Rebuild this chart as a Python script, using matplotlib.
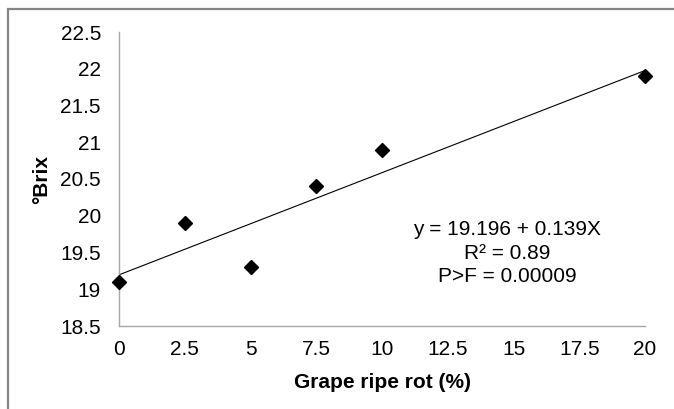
import matplotlib
matplotlib.use("Agg")
import matplotlib.pyplot as plt
from matplotlib.patches import Rectangle

plt.rcParams['font.family'] = ['Liberation Sans', 'DejaVu Sans']

# data
rot = [0, 2.5, 5, 7.5, 10, 20]
brix = [19.1, 19.9, 19.3, 20.4, 20.9, 21.9]
intercept = 19.196
slope = 0.139
x_ticks = [0, 2.5, 5, 7.5, 10, 12.5, 15, 17.5, 20]
x_tick_labels = ["0", "2.5", "5", "7.5", "10", "12.5", "15", "17.5", "20"]
y_ticks = [18.5, 19, 19.5, 20, 20.5, 21, 21.5, 22, 22.5]
y_tick_labels = ["18.5", "19", "19.5", "20", "20.5", "21", "21.5", "22", "22.5"]

W, H = 674, 409
fig = plt.figure(figsize=(W / 100, H / 100), dpi=100)
ax = fig.add_axes([119 / W, 1 - 326 / H, 526 / W, 294 / H])

# outer frame, cut off at right and bottom
fig.patches.append(Rectangle((8 / W, -0.1), 1.2, 1.1 - 9 / H,
                             transform=fig.transFigure, fill=False,
                             edgecolor="#858585", linewidth=1.6))

fit_x = [0, 20]
fit_y = [intercept + slope * v for v in fit_x]
ax.plot(fit_x, fit_y, color="black", linewidth=0.8, zorder=2)
ax.plot(rot, brix, linestyle="none", marker="D", markersize=7.3,
        color="black", zorder=3, clip_on=False)

ax.set_xlim(0, 20)
ax.set_ylim(18.5, 22.5)
ax.set_xticks(x_ticks)
ax.set_xticklabels(x_tick_labels)
ax.set_yticks(y_ticks)
ax.set_yticklabels(y_tick_labels)
ax.tick_params(length=0, labelsize=15, colors="black")
ax.tick_params(axis="x", pad=10)
ax.tick_params(axis="y", pad=13)

for side in ["top", "right"]:
    ax.spines[side].set_visible(False)
for side in ["left", "bottom"]:
    ax.spines[side].set_color("#a6a6a6")
    ax.spines[side].set_linewidth(1.0)

ax.set_xlabel("Grape ripe rot (%)", fontsize=15, fontweight="bold")
ax.xaxis.set_label_coords(0.5, (326 - 382) / 294)
ax.xaxis.label.set_verticalalignment("center")
ax.set_ylabel("°Brix", fontsize=15, fontweight="bold")
ax.yaxis.set_label_coords((42 - 119) / 526, 0.5)
ax.yaxis.label.set_verticalalignment("center")

ax.text(14.77, 19.49, "y = 19.196 + 0.139X\nR² = 0.89\nP>F = 0.00009",
        ha="center", va="center", fontsize=15, linespacing=1.3)

fig.savefig("out.png", dpi=100)
